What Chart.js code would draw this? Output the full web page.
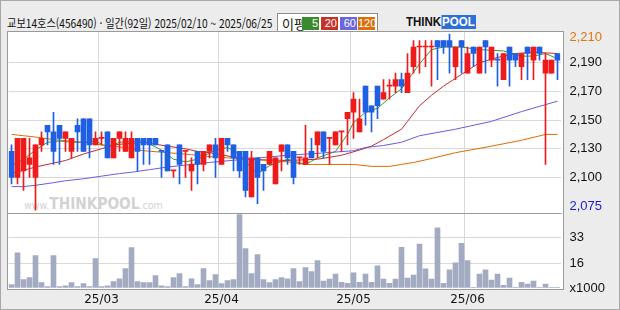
<!DOCTYPE html>
<html lang="ko">
<head>
<meta charset="utf-8">
<title>교보14호스 일간</title>
<script src="https://cdn.jsdelivr.net/npm/chart.js@4.4.1/dist/chart.umd.min.js"></script>
<style>
  body { margin: 0; background: #ececec; }
  #wrap { position: relative; width: 620px; height: 310px; background: #ececec; overflow: hidden;
          box-sizing: border-box; border: 1px solid #a8a8a8; font-family: "Noto Sans CJK KR", sans-serif; }
  .fit { position: absolute; white-space: nowrap; transform-origin: 0 50%; }
  #title { left: 6px; top: 13px; font-size: 12px; color: #111; }
  #legend { position: absolute; left: 276px; top: 12px; width: 99px; height: 18px; background: #fff;
            border: 1px solid #8c8c8c; font-size: 13px; }
  #legend span { position: absolute; left: 4px; top: 0px; color: #111; }
  #legend b { position: absolute; top: 3px; height: 13px; color: #fff; font: 11px "Liberation Sans", sans-serif;
              line-height: 13px; text-align: right; padding-right: 1px; box-sizing: border-box; }
  #logo { left: 405px; top: 13px; height: 16px; font: bold 12px "Liberation Sans", sans-serif; line-height: 16px; }
  #logo .think { color: #111; }
  #logo .pool { color: #fff; background: #2f6fd8; padding: 0 1px; }
  #plotbg { position: absolute; left: 6px; top: 30px; width: 555px; height: 257px; background: #fff;
            border: 1px solid #9a9a9a; }
  #mark { left: 23px; top: 193px; color: #d2d2d2; font: 11px "DejaVu Sans", sans-serif; }
  #mark b { font: bold 16px "DejaVu Sans", sans-serif; }
  #chart { position: absolute; left: -1px; top: -1px; }
</style>
</head>
<body>
<div id="wrap">
  <div id="title" class="fit" data-w="265">교보14호스(456490) · 일간(92일) 2025/02/10 ~ 2025/06/25</div>
  <div id="legend">
    <span>이평</span>
    <b style="left:24px;width:17px;background:#3b8a2e">5</b>
    <b style="left:43px;width:17px;background:#c8302a">20</b>
    <b style="left:62px;width:17px;background:#6a66df">60</b>
    <b style="left:80px;width:17px;background:#d9700a">120</b>
  </div>
  <div id="logo" class="fit" data-w="70"><span class="think">THINK</span><span class="pool">POOL</span></div>
  <div id="plotbg"></div>
  <div id="mark" class="fit" data-w="139">www.<b>THINKPOOL</b>.com</div>
  <canvas id="chart" width="620" height="310"></canvas>
</div>
<script>
// trading days per month (2025)
const febDays = [10, 11, 12, 13, 14, 17, 18, 19, 20, 21, 24, 25, 26, 27, 28];
const marDays = [4, 5, 6, 7, 10, 11, 12, 13, 14, 17, 18, 19, 20, 21, 24, 25, 26, 27, 28, 31];
const aprDays = [1, 2, 3, 4, 7, 8, 9, 10, 11, 14, 15, 16, 17, 18, 21, 22, 23, 24, 25, 28, 29, 30];
const mayDays = [2, 7, 8, 9, 12, 13, 14, 15, 16, 19, 20, 21, 22, 23, 26, 27, 28, 29, 30];
const junDays = [2, 4, 5, 9, 10, 11, 12, 13, 16, 17, 18, 19, 20, 23, 24, 25];

// daily prices (won)
const opens = [
  2120, 2100, 2105, 2110, 2100, 2125, 2140, 2135, 2140, 2130, 2120, 2140, 2145, 2145, 2125, 2130,
  2135, 2115, 2130, 2120, 2115, 2130, 2130, 2130, 2130, 2120, 2125, 2105, 2125, 2120, 2105, 2120,
  2110, 2120, 2125, 2110, 2130, 2125, 2120, 2120, 2085, 2115, 2110, 2110, 2095, 2120, 2125, 2120,
  2115, 2110, 2120, 2125, 2135, 2130, 2125, 2135, 2145, 2150, 2135, 2170, 2155, 2170, 2160, 2170,
  2170, 2175, 2165, 2185, 2200, 2200, 2200, 2205, 2205, 2205, 2185, 2205, 2180, 2200, 2180, 2205,
  2190, 2190, 2175, 2200, 2195, 2185, 2200, 2190, 2200, 2180, 2180, 2195
];
const highs = [
  2125, 2130, 2130, 2130, 2125, 2135, 2140, 2150, 2140, 2135, 2130, 2145, 2145, 2145, 2135, 2135,
  2135, 2130, 2135, 2135, 2135, 2130, 2130, 2130, 2130, 2120, 2125, 2105, 2125, 2120, 2115, 2120,
  2120, 2125, 2130, 2130, 2130, 2125, 2120, 2120, 2120, 2115, 2110, 2120, 2115, 2125, 2125, 2120,
  2115, 2140, 2130, 2135, 2135, 2130, 2135, 2135, 2150, 2165, 2160, 2170, 2155, 2170, 2175, 2175,
  2180, 2180, 2195, 2205, 2205, 2205, 2205, 2205, 2205, 2210, 2200, 2205, 2200, 2200, 2200, 2205,
  2200, 2195, 2195, 2200, 2195, 2195, 2200, 2200, 2200, 2195, 2190, 2195
];
const lows = [
  2095, 2095, 2090, 2100, 2075, 2120, 2125, 2110, 2110, 2120, 2115, 2120, 2120, 2115, 2125, 2125,
  2115, 2115, 2120, 2120, 2115, 2105, 2110, 2110, 2125, 2100, 2105, 2100, 2095, 2100, 2090, 2095,
  2105, 2115, 2100, 2110, 2120, 2105, 2100, 2085, 2085, 2080, 2090, 2110, 2095, 2105, 2110, 2095,
  2110, 2110, 2115, 2115, 2115, 2110, 2125, 2120, 2125, 2130, 2135, 2140, 2135, 2145, 2160, 2160,
  2165, 2165, 2165, 2180, 2180, 2185, 2170, 2175, 2195, 2180, 2175, 2180, 2180, 2185, 2180, 2180,
  2185, 2170, 2175, 2170, 2185, 2175, 2175, 2175, 2190, 2110, 2180, 2175
];
const closes = [
  2100, 2130, 2130, 2115, 2125, 2130, 2135, 2120, 2130, 2135, 2130, 2135, 2120, 2125, 2130, 2130,
  2115, 2130, 2135, 2130, 2130, 2120, 2125, 2125, 2125, 2120, 2105, 2105, 2110, 2120, 2110, 2110,
  2120, 2125, 2115, 2130, 2125, 2115, 2105, 2090, 2115, 2100, 2105, 2120, 2115, 2125, 2115, 2100,
  2115, 2115, 2115, 2135, 2120, 2130, 2135, 2135, 2150, 2160, 2145, 2150, 2150, 2155, 2165, 2170,
  2175, 2170, 2180, 2200, 2200, 2200, 2200, 2200, 2200, 2200, 2200, 2200, 2195, 2195, 2200, 2200,
  2200, 2190, 2195, 2190, 2190, 2195, 2195, 2200, 2195, 2190, 2190, 2190
];
// volume, thousands of shares
const volumes = [
  2.2, 23.2, 5.5, 6.8, 21.3, 3.5, 0.9, 21.3, 0.9, 1.5, 3.5, 0.9, 2.9, 0.9, 19.3, 0.9,
  1.5, 4.2, 6.1, 12.7, 26.5, 4.2, 3.5, 3.5, 8.1, 1.5, 0.9, 6.8, 9.4, 0.9, 6.1, 2.2,
  12.7, 4.8, 8.8, 2.9, 4.8, 5.5, 48.2, 25.9, 9.4, 21.9, 5.5, 3.5, 5.5, 6.8, 6.1, 12.7,
  4.2, 13.4, 10.8, 18.0, 4.5, 5.8, 9.2, 3.8, 3.1, 9.9, 3.8, 9.2, 3.8, 14.6, 5.8, 3.1,
  5.8, 26.7, 6.5, 8.5, 28.8, 12.6, 5.8, 39.6, 3.1, 11.9, 16.6, 29.4, 18.0, 0.4, 9.2, 11.9,
  5.2, 9.2, 1.8, 6.5, 0.4, 3.8, 2.5, 4.5, 0.4, 2.5, 0.4, 0.4
];

// moving averages: day index -> value
const ma5Days = [0, 2, 4, 6, 8, 10, 12, 14, 16, 18, 21, 22, 25, 27, 29, 31, 34, 36, 38, 40, 41, 43, 46, 49, 51, 54, 56, 57, 59, 61, 63, 65, 68, 70, 72, 75, 78, 82, 85, 87, 89, 91];
const ma5 = [2109, 2114, 2121, 2127, 2128, 2127, 2127, 2128, 2123, 2127, 2128, 2128, 2121, 2114, 2112, 2114, 2121, 2123, 2118, 2107, 2103, 2109, 2114, 2110, 2115, 2120, 2133, 2142, 2150, 2153, 2161, 2168, 2187, 2198, 2200, 2200, 2198, 2197, 2193, 2193, 2195, 2191];
const ma20Days = [0, 4, 7, 9, 12, 15, 17, 22, 26, 29, 31, 33, 39, 46, 51, 55, 58, 60, 62, 65, 66, 68, 70, 72, 75, 78, 81, 84, 87, 91];
const ma20 = [2103, 2108, 2111, 2113, 2118, 2122, 2125, 2127, 2124, 2122, 2120, 2119, 2114, 2113, 2114, 2117, 2121, 2124, 2129, 2137, 2143, 2155, 2163, 2170, 2179, 2188, 2192, 2195, 2196, 2195];
const ma60Days = [0, 2, 4, 7, 9, 12, 15, 18, 20, 23, 26, 29, 33, 40, 46, 51, 57, 59, 62, 65, 68, 74, 80, 85, 91];
const ma60 = [2093, 2093, 2094, 2096, 2097.5, 2099, 2101, 2103, 2104, 2106, 2108, 2109.5, 2111.5, 2114.5, 2117, 2118.5, 2120.5, 2123, 2124.5, 2127, 2132, 2137, 2143, 2150.5, 2158.5];
const ma120Days = [0, 2, 4, 7, 12, 15, 18, 22, 26, 30, 33, 41, 46, 49, 57, 60, 63, 65, 67, 69, 74, 80, 85, 89, 91];
const ma120 = [2133, 2132, 2131, 2129, 2127, 2125, 2123.5, 2120.5, 2119, 2117.5, 2116, 2113.5, 2112, 2110, 2110, 2108.5, 2108.5, 2110, 2111.5, 2113.5, 2119, 2124, 2128.5, 2133, 2133];

// right axis labels as printed on the chart
const priceTickVals = [2207.2, 2188.3, 2165.9, 2144.0, 2122.3, 2100.1, 2078.1];
const priceTickText = ['2,210', '2,190', '2,170', '2,150', '2,130', '2,100', '2,075'];
const volTickVals = [0, 16, 33];
const volTickText = ['x1000', '16', '33'];

const UP = '#ef1a1a';
const DOWN = '#1f5fe3';

// squeeze header/watermark text to the widths seen in the picture
document.querySelectorAll('.fit').forEach(el => {
  const w = el.scrollWidth;
  const target = +el.dataset.w;
  if (w > 0) el.style.transform = 'scaleX(' + (target / w) + ')';
});

// build category labels
const dates = [];
const monthStarts = {};
[['02', febDays], ['03', marDays], ['04', aprDays], ['05', mayDays], ['06', junDays]].forEach(([m, days], mi) => {
  days.forEach((d, di) => {
    if (di === 0 && mi > 0) monthStarts[dates.length] = '25/' + m;
    dates.push('2025/' + m + '/' + String(d).padStart(2, '0'));
  });
});

// candle colour: close vs open, doji by previous close
const candleColors = closes.map((c, i) => {
  if (c > opens[i]) return UP;
  if (c < opens[i]) return DOWN;
  return (i > 0 && c < closes[i - 1]) ? DOWN : UP;
});

function maPoints(days, vals) {
  return days.map((d, k) => ({ x: dates[d], y: vals[k] }));
}

function maLine(label, days, vals, color) {
  return {
    type: 'line',
    label: label,
    data: maPoints(days, vals),
    yAxisID: 'price',
    borderColor: color,
    borderWidth: 1,
    pointRadius: 0,
    tension: 0,
    order: 5
  };
}

const gridColor = '#d9d9d9';

const panelLine = {
  id: 'panelLine',
  beforeDatasetsDraw(chart) {
    const ctx = chart.ctx;
    const top = Math.round(chart.scales.vol.top) + 0.5;
    ctx.save();
    ctx.strokeStyle = '#9a9a9a';
    ctx.lineWidth = 1;
    ctx.beginPath();
    ctx.moveTo(chart.chartArea.left - 1, top);
    ctx.lineTo(chart.chartArea.right + 1, top);
    ctx.stroke();
    ctx.restore();
  }
};

new Chart(document.getElementById('chart'), {
  data: {
    labels: dates,
    datasets: [
      maLine('120', ma120Days, ma120, '#dd6c00'),
      maLine('60', ma60Days, ma60, '#6a5be0'),
      maLine('20', ma20Days, ma20, '#c42a2a'),
      maLine('5', ma5Days, ma5, '#3a962c'),
      {
        type: 'bar',
        label: 'wick',
        data: lows.map((l, i) => [l, highs[i]]),
        yAxisID: 'price',
        backgroundColor: candleColors,
        barThickness: 1,
        grouped: false,
        order: 2
      },
      {
        type: 'bar',
        label: 'body',
        data: opens.map((o, i) => [o, closes[i]]),
        yAxisID: 'price',
        backgroundColor: candleColors,
        barThickness: 5,
        minBarLength: 1,
        grouped: false,
        order: 1
      },
      {
        type: 'bar',
        label: 'volume',
        data: volumes,
        yAxisID: 'vol',
        backgroundColor: '#a3abc2',
        barThickness: 5,
        grouped: false,
        order: 3
      }
    ]
  },
  options: {
    responsive: false,
    animation: false,
    devicePixelRatio: 1,
    layout: { padding: { left: 8.5, top: 32, right: 0, bottom: 0 } },
    plugins: { legend: { display: false }, tooltip: { enabled: false } },
    scales: {
      x: {
        type: 'category',
        offset: true,
        grid: {
          offset: true,
          drawTicks: false,
          color: ctx => (ctx.index in monthStarts) ? gridColor : 'rgba(0,0,0,0)'
        },
        border: { display: false },
        ticks: {
          autoSkip: false,
          maxRotation: 0,
          padding: 5,
          color: '#111',
          font: { family: 'DejaVu Sans', size: 12 },
          callback: (v, i) => monthStarts[i] || ''
        },
        afterFit: s => { s.height = 22; }
      },
      price: {
        type: 'linear',
        position: 'right',
        stack: 'panes',
        stackWeight: 180.7,
        min: 2073,
        max: 2211.5,
        afterBuildTicks: s => { s.ticks = priceTickVals.map(v => ({ value: v })); },
        afterFit: s => { s.width = 59.5; },
        grid: {
          drawTicks: false,
          color: ctx => {
            const k = ctx.tick ? priceTickVals.indexOf(ctx.tick.value) : -1;
            return (k > 0 && k < priceTickVals.length - 1) ? gridColor : 'rgba(0,0,0,0)';
          }
        },
        border: { display: false },
        ticks: {
          autoSkip: false,
          padding: 9,
          font: { family: 'Liberation Sans', size: 13 },
          color: ctx => {
            const k = priceTickVals.indexOf(ctx.tick.value);
            if (k === 0) return '#dd7711';
            if (k === priceTickVals.length - 1) return '#1a1ad0';
            return '#111';
          },
          callback: v => priceTickText[priceTickVals.indexOf(v)]
        }
      },
      vol: {
        type: 'linear',
        position: 'right',
        stack: 'panes',
        stackWeight: 75.3,
        min: 0,
        max: 49.5,
        afterBuildTicks: s => { s.ticks = volTickVals.map(v => ({ value: v })); },
        afterFit: s => { s.width = 59.5; },
        grid: {
          drawTicks: false,
          color: ctx => (ctx.tick && ctx.tick.value > 0) ? gridColor : 'rgba(0,0,0,0)'
        },
        border: { display: false },
        ticks: {
          autoSkip: false,
          padding: 9,
          font: { family: 'Liberation Sans', size: 13 },
          color: '#111',
          callback: v => volTickText[volTickVals.indexOf(v)]
        }
      }
    }
  },
  plugins: [panelLine]
});
</script>
</body>
</html>
